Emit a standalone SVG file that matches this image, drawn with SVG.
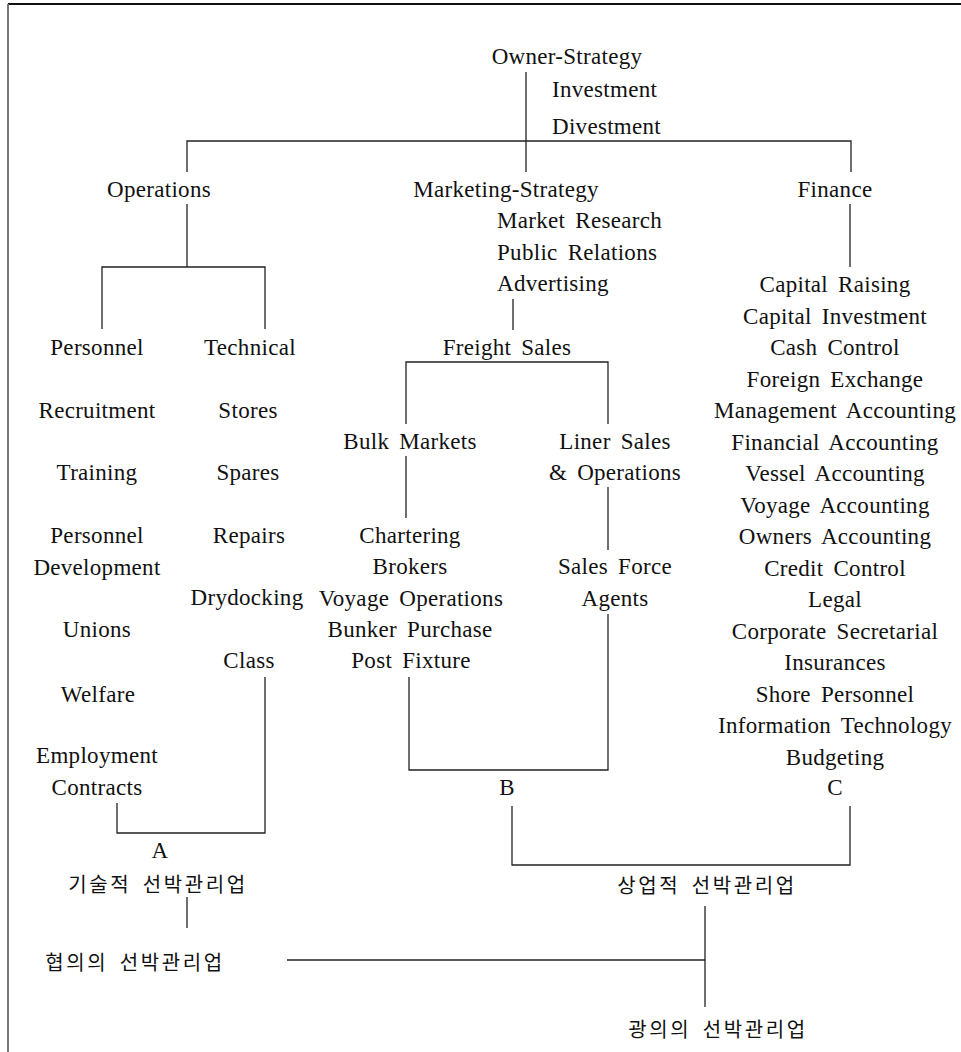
<svg xmlns="http://www.w3.org/2000/svg" width="961" height="1052" viewBox="0 0 961 1052">
<style>
text{font-family:"Liberation Serif","Noto Sans CJK KR",serif;font-size:23px;fill:#111;letter-spacing:0.3px;word-spacing:4px}
.c{text-anchor:middle}
.k{font-family:"Liberation Serif","Noto Sans CJK KR",sans-serif;font-size:20px;letter-spacing:2.6px;word-spacing:4px}
.ln{fill:none;stroke:#222;stroke-width:1.3}
</style>
<rect width="961" height="1052" fill="#fff"/>
<g id="frame">
<path d="M8 4H961" stroke="#111" stroke-width="2" fill="none"/>
<path d="M8 4V1052" stroke="#777" stroke-width="2" fill="none"/>
</g>
<g id="connectors">
<path class="ln" d="M526 72V172"/>
<path class="ln" d="M187 172V141H851V172"/>
<path class="ln" d="M187 204V267"/>
<path class="ln" d="M102 329V267H265V329"/>
<path class="ln" d="M850 204V267"/>
<path class="ln" d="M513 299V330"/>
<path class="ln" d="M406 424V362H608V424"/>
<path class="ln" d="M406 456V518"/>
<path class="ln" d="M608 487V550"/>
<path class="ln" d="M409 677V770H608V614"/>
<path class="ln" d="M117 803V833H265V677"/>
<path class="ln" d="M512 806V865H850V806"/>
<path class="ln" d="M187 897V928"/>
<path class="ln" d="M287 960H705"/>
<path class="ln" d="M705 906V1007"/>
</g>
<g id="owner"><text class="c" x="567" y="64">Owner-Strategy</text><text x="552" y="97">Investment</text><text x="552" y="134">Divestment</text></g>
<g id="operations"><text class="c" x="159" y="197">Operations</text></g>
<g id="marketing"><text class="c" x="506" y="197">Marketing-Strategy</text><text x="497" y="228">Market Research</text><text x="497" y="260">Public Relations</text><text x="497" y="291">Advertising</text></g>
<g id="finance"><text class="c" x="835" y="197">Finance</text></g>
<g id="finance-items">
<text class="c" x="835" y="292">Capital Raising</text>
<text class="c" x="835" y="323.5">Capital Investment</text>
<text class="c" x="835" y="355">Cash Control</text>
<text class="c" x="835" y="386.5">Foreign Exchange</text>
<text class="c" x="835" y="418">Management Accounting</text>
<text class="c" x="835" y="449.5">Financial Accounting</text>
<text class="c" x="835" y="481">Vessel Accounting</text>
<text class="c" x="835" y="512.5">Voyage Accounting</text>
<text class="c" x="835" y="544">Owners Accounting</text>
<text class="c" x="835" y="575.5">Credit Control</text>
<text class="c" x="835" y="607">Legal</text>
<text class="c" x="835" y="638.5">Corporate Secretarial</text>
<text class="c" x="835" y="670">Insurances</text>
<text class="c" x="835" y="701.5">Shore Personnel</text>
<text class="c" x="835" y="733">Information Technology</text>
<text class="c" x="835" y="764.5">Budgeting</text>
</g>
<g id="node-c"><text class="c" x="835" y="795">C</text></g>
<g id="personnel">
<text class="c" x="97" y="355">Personnel</text>
<text class="c" x="97" y="418">Recruitment</text>
<text class="c" x="97" y="480">Training</text>
<text class="c" x="97" y="543">Personnel</text>
<text class="c" x="97" y="575">Development</text>
<text class="c" x="97" y="637">Unions</text>
<text class="c" x="98" y="702">Welfare</text>
<text class="c" x="97" y="763">Employment</text>
<text class="c" x="97" y="795">Contracts</text>
</g>
<g id="technical">
<text class="c" x="250" y="355">Technical</text>
<text class="c" x="248" y="418">Stores</text>
<text class="c" x="248" y="480">Spares</text>
<text class="c" x="249" y="543">Repairs</text>
<text class="c" x="247" y="605">Drydocking</text>
<text class="c" x="249" y="668">Class</text>
</g>
<g id="freight"><text class="c" x="507" y="355">Freight Sales</text></g>
<g id="bulk">
<text class="c" x="410" y="449">Bulk Markets</text>
<text class="c" x="410" y="543">Chartering</text>
<text class="c" x="410" y="574">Brokers</text>
<text class="c" x="411" y="606">Voyage Operations</text>
<text class="c" x="410" y="637">Bunker Purchase</text>
<text class="c" x="411" y="668">Post Fixture</text>
</g>
<g id="liner">
<text class="c" x="615" y="449">Liner Sales</text>
<text class="c" x="615" y="480">&amp; Operations</text>
<text class="c" x="615" y="574">Sales Force</text>
<text class="c" x="615" y="606">Agents</text>
</g>
<g id="node-b"><text class="c" x="507" y="795">B</text></g>
<g id="node-a"><text class="c" x="160" y="858">A</text></g>
<g id="technical-mgmt"><text class="c k" x="158" y="892">기술적 선박관리업</text></g>
<g id="commercial-mgmt"><text class="c k" x="707" y="893">상업적 선박관리업</text></g>
<g id="narrow-mgmt"><text class="c k" x="135" y="970">협의의 선박관리업</text></g>
<g id="broad-mgmt"><text class="c k" x="718" y="1037">광의의 선박관리업</text></g>
</svg>
